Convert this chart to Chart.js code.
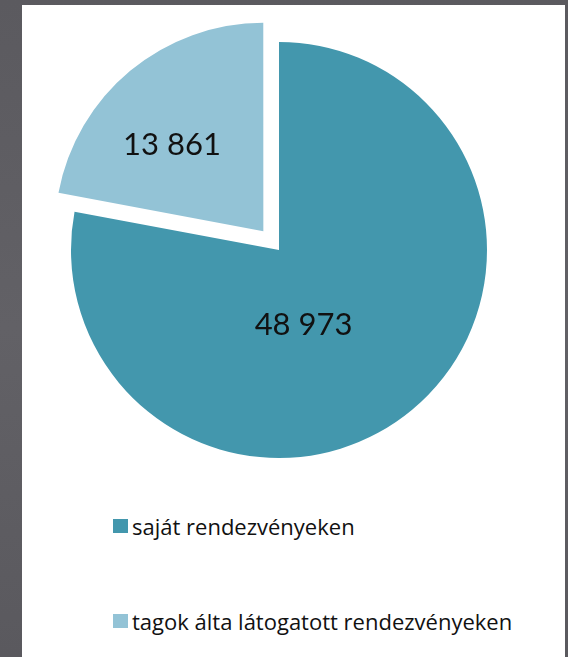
<!DOCTYPE html>
<html>
<head>
<meta charset="utf-8">
<script src="https://cdn.jsdelivr.net/npm/chart.js@4"></script>
<style>
  html, body { margin: 0; padding: 0; }
  body {
    width: 568px; height: 657px; position: relative; overflow: hidden;
    background: linear-gradient(#5b5a5f, #626166 50%, #5a595e);
    font-family: "Open Sans", Lato, sans-serif;
  }
  #panel { position: absolute; left: 22px; top: 5px; width: 543px; height: 652px; background: #fff; }
  #pie { position: absolute; left: 22px; top: -7px; }
  .item { position: absolute; left: 113px; height: 22px; display: flex; align-items: center;
          font-size: 22px; color: #111; white-space: nowrap; }
  .item span.box { width: 15px; height: 14px; margin-right: 4px; }
</style>
</head>
<body>
<div id="panel"></div>
<canvas id="pie" width="514" height="514"></canvas>
<div id="legend"></div>
<script>
const labels = ['saját rendezvényeken', 'tagok álta látogatott rendezvényeken'];
const values = [48973, 13861];
const colors = ['#4397ad', '#93c3d6'];
// Chart.js v4 moves an arc by about offset/4, so 98 pushes the small slice out ~25px
const offsets = [0, 98];

// where the value text sits inside each slice
const labelAngleFrac = [0.577, 0.41];
const labelRadiusFrac = [0.38, 0.60];

const fmt = v => String(v).replace(/\B(?=(\d{3})+(?!\d))/g, ' ');

const valueLabels = {
    id: 'valueLabels',
    afterDatasetsDraw(chart) {
        const ctx = chart.ctx;
        const arcs = chart.getDatasetMeta(0).data;
        ctx.save();
        ctx.font = '31px Lato, "Open Sans", sans-serif';
        ctx.fillStyle = '#111';
        ctx.textAlign = 'center';
        ctx.textBaseline = 'middle';
        arcs.forEach((arc, i) => {
            const p = arc.getProps(['x', 'y', 'startAngle', 'endAngle', 'outerRadius', 'circumference'], true);
            const mid = (p.startAngle + p.endAngle) / 2;
            // same shift the arc element applies when drawing
            const fix = 1 - Math.sin(Math.min(Math.PI, p.circumference || 0));
            const shift = offsets[i] / 4 * (1 + fix);
            const a = p.startAngle + (p.endAngle - p.startAngle) * labelAngleFrac[i];
            const r = p.outerRadius * labelRadiusFrac[i];
            const x = p.x + Math.cos(mid) * shift + Math.cos(a) * r;
            const y = p.y + Math.sin(mid) * shift + Math.sin(a) * r;
            ctx.fillText(fmt(values[i]), x, y);
        });
        ctx.restore();
    }
};

new Chart(document.getElementById('pie').getContext('2d'), {
    type: 'pie',
    data: {
        labels: labels,
        datasets: [{
            data: values,
            backgroundColor: colors,
            borderWidth: 0,
            offset: offsets
        }]
    },
    options: {
        responsive: false,
        animation: false,
        layout: { padding: 0 },
        plugins: { legend: { display: false }, tooltip: { enabled: false } }
    },
    plugins: [valueLabels]
});

// legend, one entry per row
const legend = document.getElementById('legend');
labels.forEach((lab, i) => {
    const d = document.createElement('div');
    d.className = 'item';
    d.style.top = (515 + i * 94.5) + 'px';
    d.innerHTML = '<span class="box" style="background:' + colors[i] + '"></span>' + lab;
    legend.appendChild(d);
});
</script>
</body>
</html>
